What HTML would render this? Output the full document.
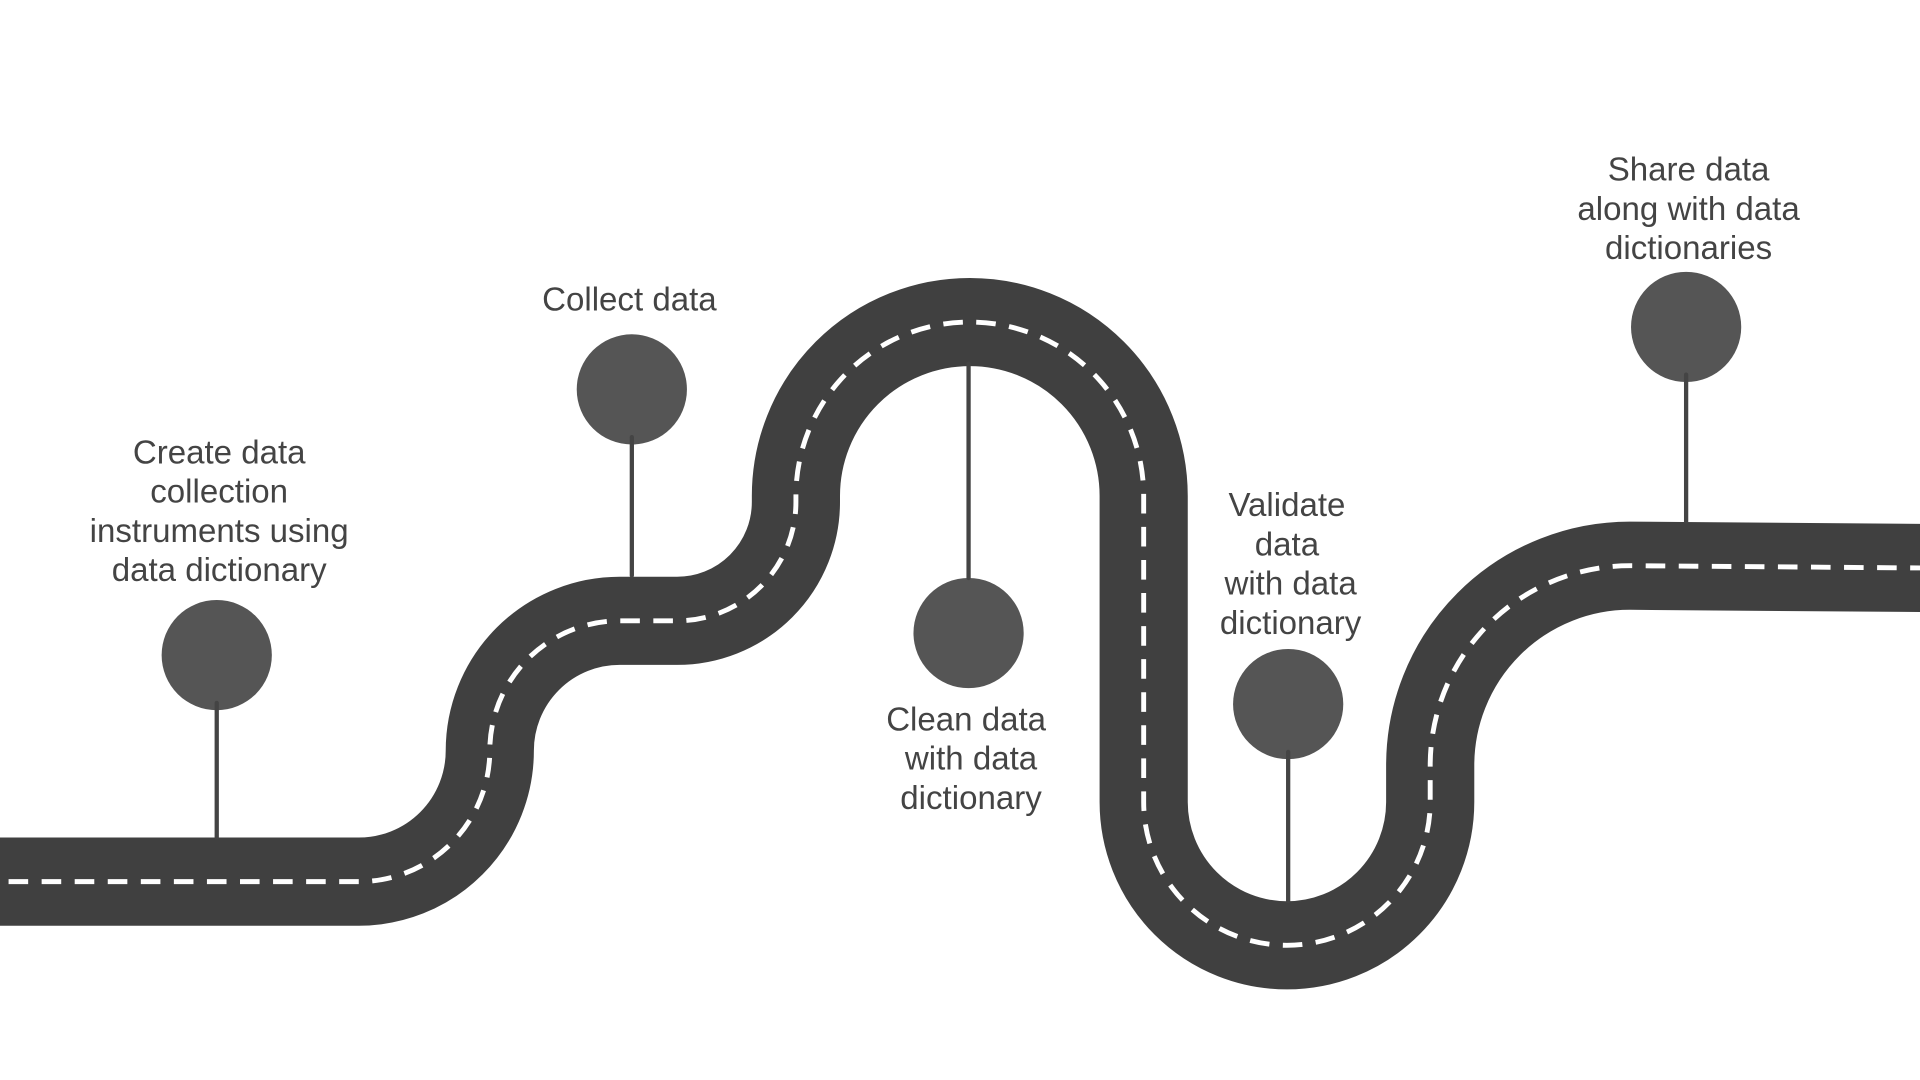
<!DOCTYPE html>
<html><head><meta charset="utf-8"><style>
html,body{margin:0;padding:0;background:#fff;width:1920px;height:1080px;overflow:hidden}
svg{display:block}
text{font-family:"Liberation Sans",Arial,sans-serif;font-size:27px;fill:#444;text-anchor:middle;dominant-baseline:central}
</style></head><body>
<svg width="1920" height="1080" viewBox="0 0 1568 882" xmlns="http://www.w3.org/2000/svg">
<rect width="1568" height="882" fill="#fff"/>
<g fill="none">
<path d="M -20 720 H 293 A 107 107 0 0 0 400 613 A 106 106 0 0 1 506 507 H 553 A 97 97 0 0 0 650 410 V 405 A 142 142 0 0 1 934 405 V 655 A 117 117 0 0 0 1168 655 V 625 A 163 163 0 0 1 1331 462 L 1590 464" stroke="#404040" stroke-width="72"/>
<path d="M -20 720 H 293 A 107 107 0 0 0 400 613 A 106 106 0 0 1 506 507 H 553 A 97 97 0 0 0 650 410 V 405 A 142 142 0 0 1 934 405 V 655 A 117 117 0 0 0 1168 655 V 625 A 163 163 0 0 1 1331 462 L 1590 464" stroke="#fff" stroke-width="4" stroke-dasharray="16 11"/>
</g>
<g fill="#555">
<circle cx="177" cy="535" r="45"/>
<circle cx="516" cy="318" r="45"/>
<circle cx="791" cy="517" r="45"/>
<circle cx="1052" cy="575" r="45"/>
<circle cx="1377" cy="267" r="45"/>
</g>
<g stroke="#444" stroke-width="3.5" stroke-linecap="round">
<line x1="177" y1="574" x2="177" y2="684"/>
<line x1="516" y1="357" x2="516" y2="470"/>
<line x1="791" y1="297" x2="791" y2="472"/>
<line x1="1052" y1="614" x2="1052" y2="736"/>
<line x1="1377" y1="306" x2="1377" y2="426"/>
</g>
<text x="179" y="370">Create data</text>
<text x="179" y="402">collection</text>
<text x="179" y="434">instruments using</text>
<text x="179" y="466">data dictionary</text>
<text x="514" y="245">Collect data</text>
<text x="789" y="588">Clean data</text>
<text x="793" y="620">with data</text>
<text x="793" y="652">dictionary</text>
<text x="1051" y="413">Validate</text>
<text x="1051" y="445">data</text>
<text x="1054" y="477">with data</text>
<text x="1054" y="509">dictionary</text>
<text x="1379" y="139">Share data</text>
<text x="1379" y="171">along with data</text>
<text x="1379" y="203">dictionaries</text>
</svg>
</body></html>
